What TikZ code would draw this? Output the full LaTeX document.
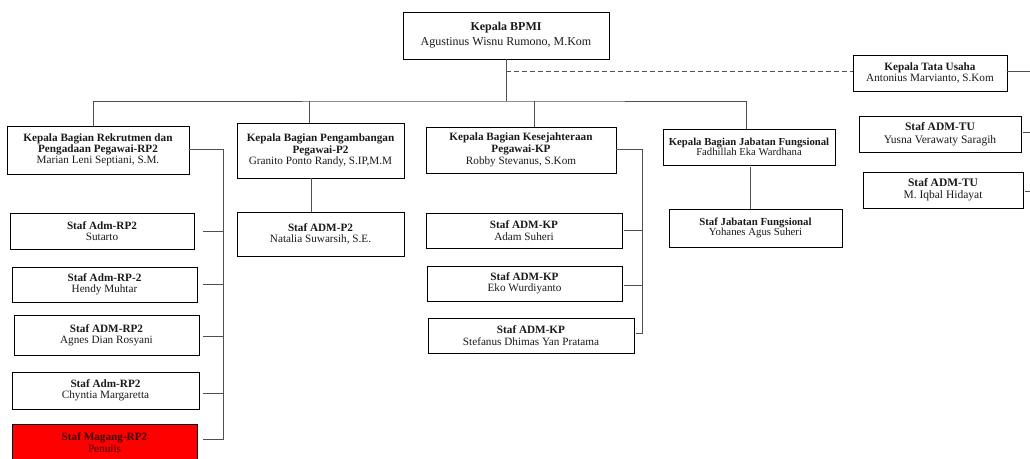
\documentclass[tikz,border=0pt]{standalone}
\usepackage{fontspec}
\setmainfont{Liberation Serif}
\definecolor{linegray}{HTML}{505050}
\definecolor{darktext}{HTML}{1A1A1A}
\definecolor{alertred}{HTML}{FF0000}
\definecolor{alerttext}{HTML}{3A0000}
\begin{document}
\begin{tikzpicture}[x=1pt,y=-1pt,
  box/.style={draw=black, line width=0.9pt, fill=white, align=center,
              inner sep=0pt, text=darktext},
  txt/.style n args={2}{font=\fontsize{#1}{#2}\selectfont},
  link/.style={draw=linegray, line width=0.9pt},
  dashlink/.style={link, dash pattern=on 5pt off 3pt}]
\useasboundingbox (0,0) rectangle (1030,458);
\fill[white] (0,0) rectangle (1030,458);
\clip (0,0) rectangle (1030,458);

% --- head and administration ---
\node[box, minimum width=206pt, minimum height=47pt, txt={12}{15}] (top) at (506,35.5)
  {\textbf{Kepala BPMI}\\Agustinus Wisnu Rumono, M.Kom};
\node[box, minimum width=154pt, minimum height=36pt, txt={11.2}{11.7}] (tu) at (930,73)
  {\textbf{Kepala Tata Usaha}\\Antonius Marvianto, S.Kom};
\node[box, minimum width=162pt, minimum height=36pt, txt={11.5}{12.5}] (tu1) at (940,134)
  {\textbf{Staf ADM-TU}\\Yusna Verawaty Saragih};
\node[box, minimum width=160pt, minimum height=36pt, txt={11.5}{12.3}] (tu2) at (943,190)
  {\textbf{Staf ADM-TU}\\M. Iqbal Hidayat};

% --- heads of division ---
\node[box, minimum width=182pt, minimum height=48pt, txt={11.2}{11.3}] (rp) at (98,150)
  {\textbf{Kepala Bagian Rekrutmen dan}\\\textbf{Pengadaan Pegawai-RP2}\\Marian Leni Septiani, S.M.};
\node[box, minimum width=167pt, minimum height=55pt, txt={11.2}{11.3}] (p2) at (320.5,150.5)
  {\textbf{Kepala Bagian Pengambangan}\\\textbf{Pegawai-P2}\\Granito Ponto Randy, S.IP,M.M};
\node[box, minimum width=190pt, minimum height=46pt, txt={11.2}{12}] (kp) at (521,150)
  {\textbf{Kepala Bagian Kesejahteraan}\\\textbf{Pegawai-KP}\\Robby Stevanus, S.Kom};
\node[box, minimum width=172pt, minimum height=36pt, txt={10.7}{10.3}] (jf) at (749,147)
  {\textbf{Kepala Bagian Jabatan Fungsional}\\Fadhillah Eka Wardhana};

% --- staff RP2 ---
\node[box, minimum width=184pt, minimum height=36pt, txt={11.2}{10.8}] (rp1) at (102,231)
  {\textbf{Staf Adm-RP2}\\Sutarto};
\node[box, minimum width=185pt, minimum height=35pt, txt={11.2}{11}] (rp2) at (104.5,284.5)
  {\textbf{Staf Adm-RP-2}\\Hendy Muhtar};
\node[box, minimum width=185pt, minimum height=40pt, txt={11.2}{11}] (rp3) at (106.5,335)
  {\textbf{Staf ADM-RP2}\\Agnes Dian Rosyani};
\node[box, minimum width=187pt, minimum height=37pt, txt={11.2}{11}] (rp4) at (105.5,390.5)
  {\textbf{Staf Adm-RP2}\\Chyntia Margaretta};
\node[box, fill=alertred, text=alerttext, minimum width=185pt, minimum height=37pt,
      txt={11.2}{11.5}] (rp5) at (104.5,442.5)
  {\textbf{Staf Magang-RP2}\\Penulis};

% --- staff P2, KP, JF ---
\node[box, minimum width=167pt, minimum height=44pt, txt={11.2}{11.5}] (p2s) at (320.5,234)
  {\textbf{Staf ADM-P2}\\Natalia Suwarsih, S.E.};
\node[box, minimum width=196pt, minimum height=35pt, txt={11.2}{11.5}] (kp1) at (524,230.5)
  {\textbf{Staf ADM-KP}\\Adam Suheri};
\node[box, minimum width=195pt, minimum height=35pt, txt={11.2}{11.5}] (kp2) at (524.5,283.5)
  {\textbf{Staf ADM-KP}\\Eko Wurdiyanto};
\node[box, minimum width=206pt, minimum height=35pt, txt={11.2}{11.5}] (kp3) at (531,335.5)
  {\textbf{Staf ADM-KP}\\Stefanus Dhimas Yan Pratama};
\node[box, minimum width=173pt, minimum height=38pt, txt={10.8}{10.3}] (jfs) at (755.5,228)
  {\textbf{Staf Jabatan Fungsional}\\Yohanes Agus Suheri};

% --- main bus from the head to the divisions ---
\coordinate (bus) at (506,101);
\coordinate (rptop) at ([xshift=-4.5pt]rp.north);
\coordinate (p2top) at ([xshift=-11pt]p2.north);
\coordinate (kptop) at ([xshift=13pt]kp.north);
\coordinate (jftop) at ([xshift=-2.3pt]jf.north);
\draw[link] (top.south) -- (bus);
\draw[link] (rptop) |- (bus) -| (jftop);
\draw[link] (p2top) -- (p2top |- bus);
\draw[link] (kptop) -- (kptop |- bus);

% --- administration line (dashed) and its outgoing links ---
\coordinate (tuwest) at ([yshift=2pt]tu.west);
\coordinate (tueast) at ([yshift=2pt]tu.east);
\coordinate (tu1east) at ([yshift=1.7pt]tu1.east);
\coordinate (tu2east) at ([yshift=-1.7pt]tu2.east);
\coordinate (edge) at (1036,0);
\draw[dashlink] (top.south |- tuwest) -- (tuwest);
\draw[link] (tueast) -- (tueast -| edge);
\draw[link] ([xshift=1.5pt]tu1east) -- (tu1east -| edge);
\draw[link] ([xshift=1.5pt]tu2east) -- (tu2east -| edge);

% --- RP2 branch ---
\coordinate (rpin) at (203,0);
\coordinate (rpend) at (223,439.5);
\draw[link] ([yshift=1pt]rp.east) -| (rpend);
\foreach \n/\dy in {rp1/0, rp2/0, rp3/-1, rp4/-2.5, rp5/3} {
  \coordinate (c) at ([yshift=\dy pt]\n.east);
  \draw[link] (c -| rpin) -- (c -| rpend);
}

% --- P2 branch ---
\coordinate (p2bot) at ([xshift=-9.5pt]p2.south);
\draw[link] (p2bot) -- (p2bot |- p2s.north);

% --- KP branch ---
\coordinate (kpend) at (642,333.5);
\draw[link] ([yshift=1pt]kp.east) -| (kpend);
\foreach \n/\dy in {kp1/0, kp2/-1.5, kp3/2.5} {
  \coordinate (c) at ([yshift=\dy pt]\n.east);
  \draw[link] ([xshift=1.5pt]c) -- (c -| kpend);
}

% --- JF branch ---
\coordinate (jfbot) at ([xshift=1pt]jf.south);
\draw[link] ([yshift=-2pt]jfbot) -- (jfbot |- jfs.north);
\end{tikzpicture}
\end{document}
